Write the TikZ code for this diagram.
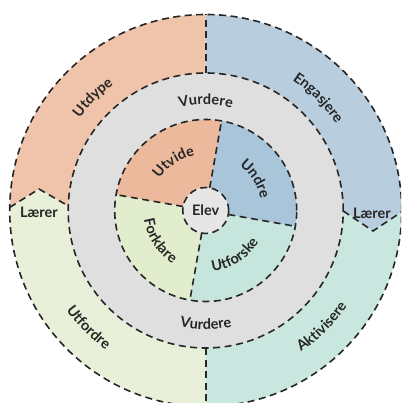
\documentclass[tikz,border=0pt]{standalone}
\usepackage{fontspec}
\setmainfont{Lato}
\usetikzlibrary{decorations.text}

\definecolor{ink}{HTML}{262626}
\definecolor{lineink}{HTML}{262626}
\definecolor{outOrange}{HTML}{F0C4AA}
\definecolor{outBlue}{HTML}{B8CEDE}
\definecolor{outGreen}{HTML}{E8F0D9}
\definecolor{outTeal}{HTML}{C9E7DF}
\definecolor{ringGray}{HTML}{DFDFDF}
\definecolor{inOrange}{HTML}{EDB99C}
\definecolor{inBlue}{HTML}{A9C5DA}
\definecolor{inGreen}{HTML}{E2EDCD}
\definecolor{inTeal}{HTML}{C6E6DD}
\definecolor{elevGray}{HTML}{E6E6E6}

\tikzset{
  dashline/.style={draw=lineink, line width=1.6pt, dash pattern=on 7pt off 4.5pt},
  lbl/.style={text=ink, font=\fontsize{14.5}{16}\selectfont\bfseries},
  % curved label whose letters stand outward (path runs clockwise)
  arctop/.style={decorate, decoration={text along path, text align=center,
      text color=ink, text={|\fontsize{14.5}{16}\selectfont\bfseries|#1}}},
  % curved label whose letters stand inward (path runs counter-clockwise)
  arcbot/.style={decorate, decoration={text along path, text align=center,
      text color=ink, text={|\fontsize{14.5}{16}\selectfont\bfseries|#1}}},
}

\begin{document}
\begin{tikzpicture}
  \def\Ro{196pt}   % outer circle
  \def\Rg{137.5pt} % grey ring
  \def\Ri{91pt}    % inner circle
  \useasboundingbox (-205.7pt,-192.5pt) rectangle (195.3pt,210.5pt);
  \clip (-205.7pt,-192.5pt) rectangle (195.3pt,210.5pt);
  \fill[white] (-205.7pt,-192.5pt) rectangle (195.3pt,210.5pt);

  % chevron corners between the outer quadrants
  \coordinate (L1) at (179.1:\Ro);
  \coordinate (LP) at (-166.7pt,21.5pt);
  \coordinate (L2) at (178.1:\Rg);
  \coordinate (R1) at (-0.2:\Rg);
  \coordinate (RP) at (167.3pt,-20.5pt);
  \coordinate (R3) at (-0.4:\Ro);

  % outer quadrants
  \fill[outOrange] (0,0) -- (90:\Ro) arc[start angle=90, end angle=179.1, radius=\Ro]
    -- (LP) -- (L2) -- cycle;
  \fill[outGreen] (0,0) -- (L2) -- (LP) -- (L1)
    arc[start angle=179.1, end angle=270, radius=\Ro] -- cycle;
  \fill[outBlue] (0,0) -- (90:\Ro) arc[start angle=90, end angle=-0.4, radius=\Ro]
    -- (RP) -- (R1) -- cycle;
  \fill[outTeal] (0,0) -- (R1) -- (RP) -- (R3)
    arc[start angle=-0.4, end angle=-90, radius=\Ro] -- cycle;

  % dividers of the outer ring
  \draw[dashline] (L1) -- (LP) -- (L2);
  \draw[dashline] (R1) -- (RP) -- (R3);
  \draw[dashline] (90:\Rg) -- (90:\Ro);
  \draw[dashline] (-90:\Rg) -- (-90:\Ro);

  % grey ring
  \fill[ringGray] (0,0) circle[radius=\Rg];
  \draw[dashline] (0,0) circle[radius=\Rg];

  % inner sectors
  \fill[inOrange] (0,0) -- (80:\Ri) arc[start angle=80, end angle=170, radius=\Ri] -- cycle;
  \fill[inGreen] (0,0) -- (170:\Ri) arc[start angle=170, end angle=260, radius=\Ri] -- cycle;
  \fill[inTeal] (0,0) -- (260:\Ri) arc[start angle=260, end angle=350, radius=\Ri] -- cycle;
  \fill[inBlue] (0,0) -- (-10:\Ri) arc[start angle=-10, end angle=80, radius=\Ri] -- cycle;
  \foreach \a in {80,170,260,350} \draw[dashline] (\a:23pt) -- (\a:\Ri);
  \draw[dashline] (0,0) circle[radius=\Ri];

  % centre
  \node[circle, fill=elevGray, dashline, minimum size=46pt, inner sep=0pt, lbl] (elev) at (0,0) {Elev};
  \draw[dashline] (0,0) circle[radius=\Ro];

  % side labels
  \node[lbl] (laererL) at (-166.7pt,-1.5pt) {Lærer};
  \node[lbl] (laererR) at (166.3pt,-2.5pt) {Lærer};

  % outer ring labels
  \path[arctop=Utdype]    (165:156pt) arc[start angle=165, end angle=105, radius=156pt];
  \path[arctop=Engasjere] (75:156.5pt) arc[start angle=75, end angle=15, radius=156.5pt];
  \path[arcbot=Utfordre]  (195:171.5pt) arc[start angle=195, end angle=255, radius=171.5pt];
  \path[arcbot=Aktivisere](285:170.5pt) arc[start angle=285, end angle=345, radius=170.5pt];

  % grey ring labels
  \path[arctop=Vurdere] (120:106pt) arc[start angle=120, end angle=60, radius=106pt];
  \path[arcbot=Vurdere] (240:119pt) arc[start angle=240, end angle=300, radius=119pt];

  % inner labels
  \path[arctop=Utvide]   (173.5:56pt) arc[start angle=173.5, end angle=73.5, radius=56pt];
  \path[arctop=Undre]    (82.3:56pt) arc[start angle=82.3, end angle=-17.7, radius=56pt];
  \path[arcbot=Utforske] (-107:61.5pt) arc[start angle=-107, end angle=-7, radius=61.5pt];
  \path[arcbot=Forklare] (163.3:62.4pt) arc[start angle=163.3, end angle=263.3, radius=62.4pt];
\end{tikzpicture}
\end{document}
